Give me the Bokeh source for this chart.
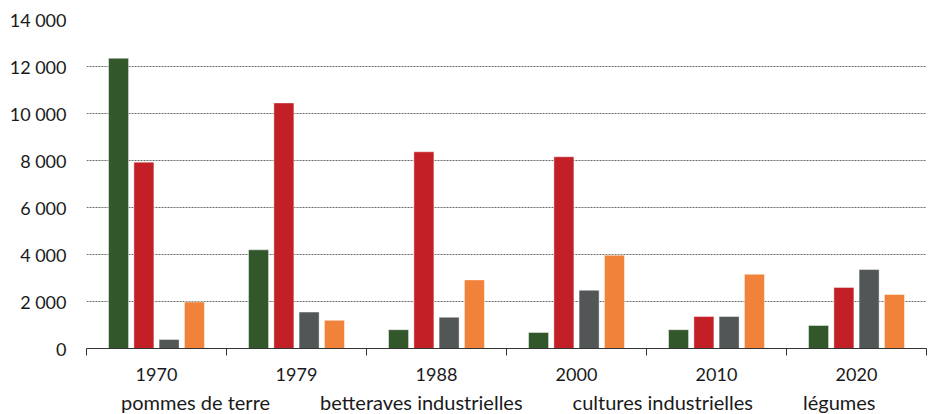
from bokeh.plotting import figure
from bokeh.layouts import column
from bokeh.models import (Range1d, FixedTicker, CustomJSTickFormatter, Legend, LegendItem,
                          ColumnDataSource, CDSView, IndexFilter)
from bokeh.embed import file_html
from bokeh.resources import INLINE

years = ["1970", "1979", "1988", "2000", "2010", "2020"]
pommes = [12350, 4200, 800, 680, 800, 980]
betteraves = [7930, 10450, 8370, 8160, 1360, 2600]
cultures = [380, 1550, 1330, 2480, 1360, 3360]
legumes = [1980, 1200, 2920, 3970, 3160, 2300]

series = [
    ("pommes de terre", pommes, "#31572B"),
    ("betteraves industrielles", betteraves, "#C21F26"),
    ("cultures industrielles", cultures, "#525657"),
    ("légumes", legumes, "#F0823A"),
]
offsets = [-0.271, -0.09, 0.09, 0.271]
bar_w = 0.143
y_ticks = list(range(0, 14001, 2000))

FONT = "Lato"

p = figure(width=927, height=390, output_backend="svg", toolbar_location=None,
           x_range=Range1d(0, len(years)), y_range=Range1d(0, 14000),
           min_border_left=86, min_border_right=1, min_border_top=19,
           min_border_bottom=42)
p.outline_line_color = None
p.xgrid.grid_line_color = None
p.ygrid.grid_line_color = "#6a6a6a"
p.ygrid.grid_line_dash = "2 1"
p.ygrid.grid_line_width = 1

# legend strip below the chart (same series, no marks drawn in it)
leg_fig = figure(width=927, height=24, output_backend="svg", toolbar_location=None,
                 x_range=Range1d(0, len(years)), y_range=Range1d(-300000, -200000),
                 x_axis_type=None, y_axis_type=None, min_border=0)
leg_fig.outline_line_color = None
leg_fig.xgrid.grid_line_color = None
leg_fig.ygrid.grid_line_color = None

items = []
for (name, vals, col), off in zip(series, offsets):
    src = ColumnDataSource(dict(x=[i + 0.5 + off for i in range(len(years))], top=vals))
    p.vbar(x="x", top="top", width=bar_w, source=src, fill_color=col,
           line_color="white", line_alpha=0.45, line_width=1)
    r2 = leg_fig.vbar(x="x", top="top", width=bar_w, source=src, fill_color=col,
                      line_color=None, view=CDSView(filter=IndexFilter(indices=[])))
    items.append(LegendItem(label=name, renderers=[r2]))

# x axis: labels at category centres, boundary tick marks
xa = p.xaxis[0]
xa.ticker = FixedTicker(ticks=[i + 0.5 for i in range(len(years))],
                        minor_ticks=list(range(len(years) + 1)))
xa.major_label_overrides = {i + 0.5: y for i, y in enumerate(years)}
xa.major_tick_line_color = None
xa.major_tick_out = 7
xa.major_tick_in = 0
xa.minor_tick_line_color = "#333333"
xa.minor_tick_out = 7
xa.minor_tick_in = 0
xa.axis_line_color = "#333333"
xa.major_label_text_font = FONT
xa.major_label_text_font_size = "18px"
xa.major_label_text_color = "#1a1a1a"
xa.major_label_standoff = 12

ya = p.yaxis[0]
ya.ticker = FixedTicker(ticks=y_ticks)
ya.formatter = CustomJSTickFormatter(code="""
return Math.round(tick).toString().replace(/\\B(?=(\\d{3})+(?!\\d))/g, "\\u00a0");
""")
ya.axis_line_color = None
ya.major_tick_line_color = None
ya.minor_tick_line_color = None
ya.major_label_text_font = FONT
ya.major_label_text_font_size = "18px"
ya.major_label_text_color = "#1a1a1a"
ya.major_label_standoff = 14

legend = Legend(items=items, orientation="horizontal", location=(20, 0),
                glyph_width=12, glyph_height=12, label_standoff=3, spacing=35,
                padding=0, margin=0, border_line_color=None, background_fill_color=None,
                label_text_font=FONT, label_text_font_size="20px",
                label_text_color="#1a1a1a")
leg_fig.add_layout(legend, "center")

layout = column(p, leg_fig, spacing=0)
open("out.html", "w").write(file_html(layout, INLINE))
